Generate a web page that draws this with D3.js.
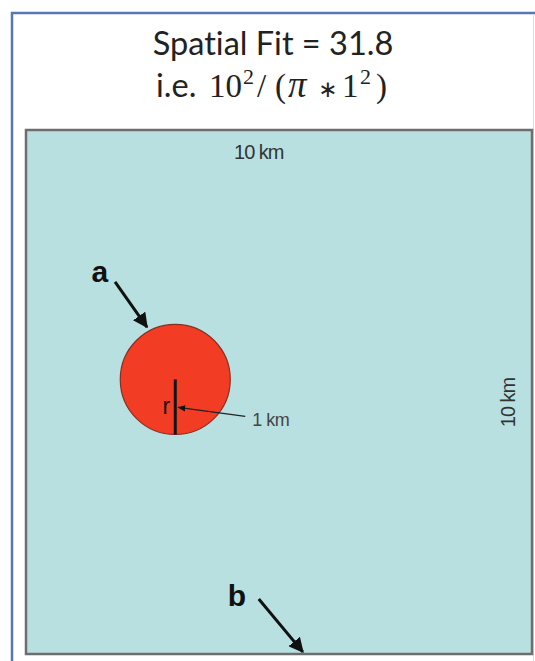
<!DOCTYPE html>
<html>
<head>
<meta charset="utf-8">
<script src="https://cdn.jsdelivr.net/npm/d3@7"></script>
<style>
  html, body { margin: 0; background: #fff; overflow: hidden; }
  svg { display: block; overflow: hidden; }
</style>
</head>
<body>
<svg id="chart"></svg>
<script>
// map extent in km (the square is 10 km on each side)
const extentKm = [0, 10];
const sideLabels = ["10 km", "10 km"];

// the patch: centre and radius, in km
const patchCx = [2.95];
const patchCy = [4.76];
const patchR = [1];
const radiusLabel = "1 km";

// annotation arrows, km coordinates (start -> end)
const arrowNames = ["a", "b"];
const arrowX0 = [1.76, 4.60];
const arrowY0 = [2.90, 8.95];
const arrowX1 = [2.39, 5.47];
const arrowY1 = [3.76, 9.96];
const labelX = [1.46, 4.17];
const labelY = [2.90, 9.08];

const fitValue = 31.8;
// 10^2 / (pi * 1^2)
const formulaParts = ["10", "2", "/", "(", "\u03C0", "\u2217", "1", "2", ")"];

var W = 535, H = 661;

const svg = d3.select("#chart")
	.attr("width", W)
	.attr("height", H);

// arrow markers
const defs = svg.append("defs");
defs.append("marker")
	.attr("id", "head")
	.attr("viewBox", "0 0 10 10")
	.attr("refX", 9)
	.attr("refY", 5)
	.attr("markerWidth", 5)
	.attr("markerHeight", 5)
	.attr("markerUnits", "strokeWidth")
	.attr("orient", "auto")
	.append("path")
	.attr("d", "M0,0 L10,5 L0,10 z")
	.attr("fill", "#111");
defs.append("marker")
	.attr("id", "headSmall")
	.attr("viewBox", "0 0 10 10")
	.attr("refX", 9)
	.attr("refY", 5)
	.attr("markerWidth", 6)
	.attr("markerHeight", 6)
	.attr("markerUnits", "strokeWidth")
	.attr("orient", "auto")
	.append("path")
	.attr("d", "M0,1 L10,5 L0,9 z")
	.attr("fill", "#111");

// outer slide frame, cropped: only left and top edges are visible
svg.append("path")
	.attr("d", "M12," + H + " V13 H" + W)
	.attr("fill", "none")
	.attr("stroke", "#5878b4")
	.attr("stroke-width", 2.5);
// faint slide edge at the far right
svg.append("line")
	.attr("x1", W - 1.5).attr("x2", W - 1.5)
	.attr("y1", 15).attr("y2", H)
	.attr("stroke", "#d8dde4")
	.attr("stroke-width", 1);

// title
const title = svg.append("g")
	.attr("fill", "#222")
	.style("font-variant-ligatures", "none");
title.append("text")
	.attr("x", 273)
	.attr("y", 55)
	.attr("text-anchor", "middle")
	.style("font-family", "Lato, 'Open Sans', sans-serif")
	.style("font-size", "32.5px")
	.text("Spatial Fit = " + fitValue);

const t2 = title.append("text")
	.attr("y", 97)
	.style("font-family", "Lato, 'Open Sans', sans-serif")
	.style("font-size", "32.5px");
t2.append("tspan").attr("x", 156).text("i.e.");

// formula pieces laid out left to right
const mathFont = "'Liberation Serif', 'DejaVu Serif', serif";
const pieceX = [209, 243, 257, 275, 288, 318, 342, 360, 376];
const pieceSup = [false, true, false, false, false, false, false, true, false];
formulaParts.forEach((p, i) => {
	const ts = t2.append("tspan")
		.attr("x", pieceX[i])
		.attr("y", pieceSup[i] ? 84 : 97)
		.style("font-family", p === "\u2217" ? "'DejaVu Sans', sans-serif" : mathFont)
		.style("font-size", pieceSup[i] ? "22px" : (p === "\u2217" ? "23px" : "33px"))
		.text(p);
	if (p === "\u03C0") ts.style("font-style", "italic").style("font-size", "37px");
});

// km -> pixel scales
const x = d3.scaleLinear().domain(extentKm).range([26, 532]);
const y = d3.scaleLinear().domain(extentKm).range([130, 654]);
// the drawing is schematic: the patch radius is drawn slightly larger
const r = d3.scaleLinear().domain([0, 1]).range([0, 55]);

// map square
svg.append("rect")
	.attr("x", x(extentKm[0]))
	.attr("y", y(extentKm[0]))
	.attr("width", x(extentKm[1]) - x(extentKm[0]))
	.attr("height", y(extentKm[1]) - y(extentKm[0]))
	.attr("fill", "#b9e0e0")
	.attr("stroke", "#6e6e6e")
	.attr("stroke-width", 2.5);

// side labels
svg.append("text")
	.attr("x", x(4.6))
	.attr("y", y(0) + 29)
	.attr("text-anchor", "middle")
	.attr("fill", "#333")
	.style("font-family", "'Liberation Sans', Arial, sans-serif")
	.style("font-size", "20px")
	.style("letter-spacing", "-1px")
	.text(sideLabels[0]);

svg.append("text")
	.attr("transform", `translate(${x(10) - 17},${y(5.2)}) rotate(-90)`)
	.attr("text-anchor", "middle")
	.attr("fill", "#333")
	.style("font-family", "'Liberation Sans', Arial, sans-serif")
	.style("font-size", "20px")
	.style("letter-spacing", "-1px")
	.text(sideLabels[1]);

// patch
const patch = svg.append("g")
	.selectAll("g")
	.data(patchCx.map((d, i) => ({ cx: d, cy: patchCy[i], r: patchR[i] })))
	.join("g");

patch.append("circle")
	.attr("cx", d => x(d.cx))
	.attr("cy", d => y(d.cy))
	.attr("r", d => r(d.r))
	.attr("fill", "#f23c24")
	.attr("stroke", "#8a2e22")
	.attr("stroke-width", 1.2);

// radius line
patch.append("line")
	.attr("x1", d => x(d.cx))
	.attr("x2", d => x(d.cx))
	.attr("y1", d => y(d.cy))
	.attr("y2", d => y(d.cy) + r(d.r))
	.attr("stroke", "#111")
	.attr("stroke-width", 3);

patch.append("text")
	.attr("x", d => x(d.cx) - 5)
	.attr("y", d => y(d.cy) + 35)
	.attr("text-anchor", "end")
	.attr("fill", "#111")
	.style("font-family", "'Liberation Sans', Arial, sans-serif")
	.style("font-size", "23px")
	.text("r");

// 1 km pointer
patch.append("line")
	.attr("x1", d => x(d.cx) + 70)
	.attr("y1", d => y(d.cy) + 37)
	.attr("x2", d => x(d.cx) + 3)
	.attr("y2", d => y(d.cy) + 28)
	.attr("stroke", "#222")
	.attr("stroke-width", 1.3)
	.attr("marker-end", "url(#headSmall)");

patch.append("text")
	.attr("x", d => x(d.cx) + 77)
	.attr("y", d => y(d.cy) + 47)
	.attr("fill", "#444")
	.style("font-family", "'Liberation Sans', Arial, sans-serif")
	.style("font-size", "18px")
	.style("letter-spacing", "-0.5px")
	.text(radiusLabel);

// annotation arrows a and b
const ann = svg.append("g")
	.selectAll("g")
	.data(arrowNames.map((n, i) => ({
		name: n, x0: arrowX0[i], y0: arrowY0[i], x1: arrowX1[i], y1: arrowY1[i], lx: labelX[i], ly: labelY[i]
	})))
	.join("g");

ann.append("line")
	.attr("x1", d => x(d.x0))
	.attr("y1", d => y(d.y0))
	.attr("x2", d => x(d.x1))
	.attr("y2", d => y(d.y1))
	.attr("stroke", "#111")
	.attr("stroke-width", 3)
	.attr("marker-end", "url(#head)");

ann.append("text")
	.attr("x", d => x(d.lx))
	.attr("y", d => y(d.ly))
	.attr("text-anchor", "middle")
	.attr("fill", "#111")
	.style("font-family", "'Liberation Sans', Arial, sans-serif")
	.style("font-weight", "bold")
	.style("font-size", "30px")
	.text(d => d.name);
</script>
</body>
</html>
